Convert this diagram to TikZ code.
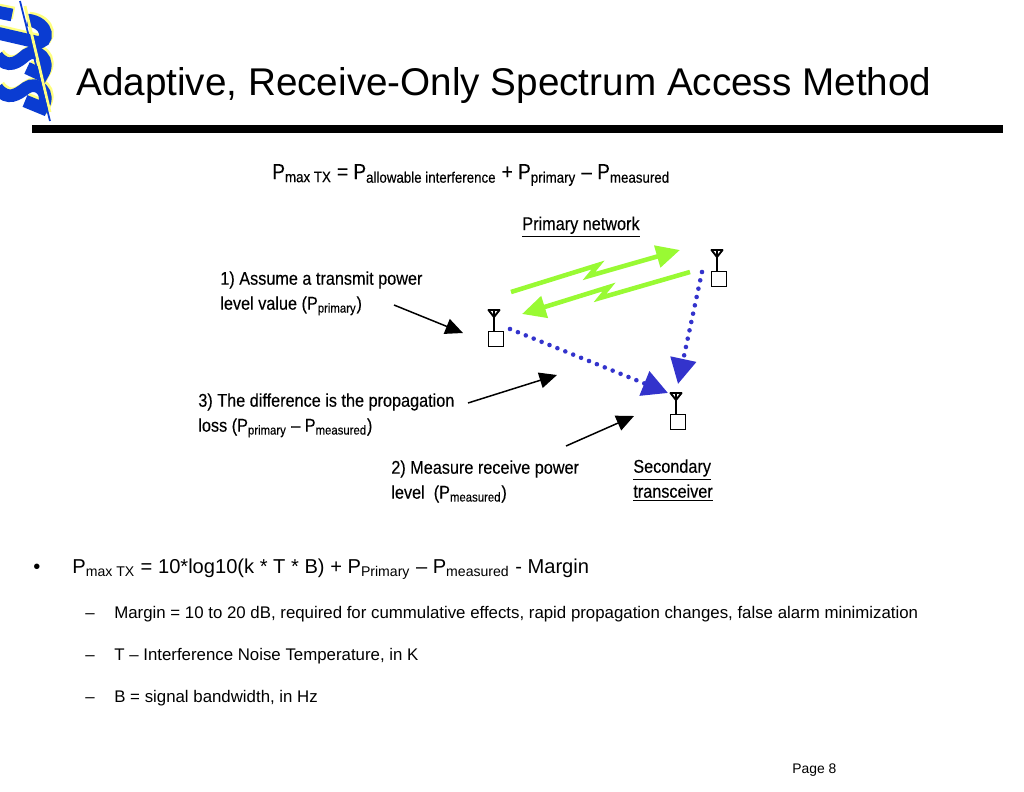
\documentclass[tikz,border=0pt]{standalone}
\usepackage{fontspec}
\setmainfont{Liberation Sans}
\newfontfamily\narrowfont[FakeStretch=0.88,FakeBold=0.25]{Liberation Sans}
\usepackage{xcolor}
\usetikzlibrary{arrows.meta}
\definecolor{logoblue}{HTML}{0A3CD2}
\definecolor{logoyellow}{HTML}{FFFF80}
\definecolor{linkgreen}{HTML}{99FA33}
\definecolor{dotblue}{HTML}{3333CC}
\newcommand{\lo}[1]{\textsubscript{#1}}

\begin{document}
\begin{tikzpicture}[x=0.02cm,y=-0.02cm,
   titletxt/.style={anchor=base west,inner sep=0pt,font=\fontsize{22pt}{26pt}\selectfont},
   eqtxt/.style={anchor=base west,inner sep=0pt,font=\narrowfont\fontsize{12.3pt}{15pt}\selectfont},
   lbl/.style={anchor=north west,inner sep=0pt,align=left,font=\narrowfont\fontsize{10.5pt}{14.2pt}\selectfont},
   bodytxt/.style={anchor=base west,inner sep=0pt,font=\fontsize{#1}{12pt}\selectfont},
   box/.style={draw=black,fill=white,line width=0.95pt,minimum size=8.5pt,inner sep=0pt},
   note/.style={black,line width=0.85pt,-{Triangle[length=10pt,width=9pt]}},
   link/.style={linkgreen,line width=2.6pt,miter limit=10,-{Triangle[length=13.5pt,width=12.5pt]}},
   probe/.style={dotblue,line width=2.6pt,line cap=round,dash pattern=on 0pt off 4.85pt,
     -{Triangle[length=14.5pt,width=14.5pt]}},
   swoosh/.style={line width=7.2pt,line cap=butt}]
  \useasboundingbox (0,0) rectangle (1024,791);

  \begin{scope}
    \clip (0,0) rectangle (60,125);
    \foreach \c/\dx/\dy in {logoyellow/2/-2,logoblue/0/0}{
      \begin{scope}[shift={(\dx,\dy)},\c,swoosh]
        \draw (-3,12) -- (12,15);
        \draw (-3,33) -- (36,42) .. controls (50,45) and (50,22) .. (27,20);
        \draw (-3,56) .. controls (8,70) and (18,62) .. (26,55) .. controls (37,47) and (52,60) .. (42,75) -- (27,68);
        \draw (-3,88) .. controls (8,102) and (18,94) .. (26,88) .. controls (37,80) and (52,93) .. (42,108) -- (25,101);
      \end{scope}
    }
  \end{scope}
  \draw[logoyellow,line width=1.6pt] (25,6) -- (50,112);
  \draw[logoblue,line width=1pt] (20,1) -- (50,121);

  \node[titletxt] (title) at (76,95) {Adaptive, Receive-Only Spectrum Access Method};
  \fill[black] (32,125) rectangle (1003,133);

  \node[eqtxt] (formula) at (272,179)
   {P\lo{max TX} = P\lo{allowable interference} + P\lo{primary} – P\lo{measured}};
  \node[lbl,anchor=base west] (primary) at (522,230) {\underline{Primary network}};
  \node[lbl] (assume) at (220,271) {1) Assume a transmit power\\level value (P\lo{primary})};
  \node[lbl] (differ) at (198,393) {3) The difference is the propagation\\loss (P\lo{primary} – P\lo{measured})};
  \node[lbl] (measure) at (391,460) {2) Measure receive power\\level~ (P\lo{measured})};
  \node[lbl] (second) at (633,459) {\underline{Secondary}\\\underline{transceiver}};

  \foreach \n/\x/\y in {txa/496/339,txb/719/279,rx/678/422}{
    \node[box] (\n) at (\x,\y) {};
    \coordinate (\n top) at (\x-2,\y-29);
    \draw[black,line width=1.1pt] (\n top) -- ++(0,21);
    \draw[black,line width=1.1pt,line join=round] (\n top) ++(-5.5,0) -- ++(11,0) -- ++(-5.5,7) -- cycle;
  }

  \coordinate (up0) at (511,292);
  \coordinate (up1) at (598,265);
  \coordinate (up2) at (589,276);
  \coordinate (up3) at (680,250);
  \coordinate (dn0) at (690,272);
  \coordinate (dn1) at (600,298);
  \coordinate (dn2) at (609,287);
  \coordinate (dn3) at (522,314);
  \draw[link] (up0) -- (up1) -- (up2) -- (up3);
  \draw[link] (dn0) -- (dn1) -- (dn2) -- (dn3);

  \coordinate (pa0) at (510,329);
  \coordinate (pa1) at (668,393);
  \coordinate (pb0) at (702,272);
  \coordinate (pb1) at (678,384);
  \draw[probe] (pa0) -- (pa1);
  \draw[probe] (pb0) -- (pb1);

  \coordinate (na0) at (394,305);
  \coordinate (na1) at (463,333);
  \coordinate (nb0) at (468,403);
  \coordinate (nb1) at (557,375);
  \coordinate (nc0) at (566,446);
  \coordinate (nc1) at (634,416);
  \draw[note] (na0) -- (na1);
  \draw[note] (nb0) -- (nb1);
  \draw[note] (nc0) -- (nc1);

  \node[bodytxt=11.45pt] (bullet) at (33,573) {•};
  \node[bodytxt=11.45pt] (budget) at (72,573)
   {P\lo{max TX} = 10*log10(k * T * B) + P\lo{Primary} – P\lo{measured} - Margin};
  \foreach \n/\y/\t in {margin/618/{Margin = 10 to 20 dB, required for cummulative effects, rapid propagation changes, false alarm minimization},
     temp/660/{T – Interference Noise Temperature, in K},
     width/702/{B = signal bandwidth, in Hz}}{
    \node[bodytxt=9.58pt] (dash\n) at (85,\y) {–};
    \node[bodytxt=9.58pt] (\n) at (114,\y) {\t};
  }
  \node[bodytxt=7.9pt] (page) at (792,773) {Page 8};
\end{tikzpicture}
\end{document}
